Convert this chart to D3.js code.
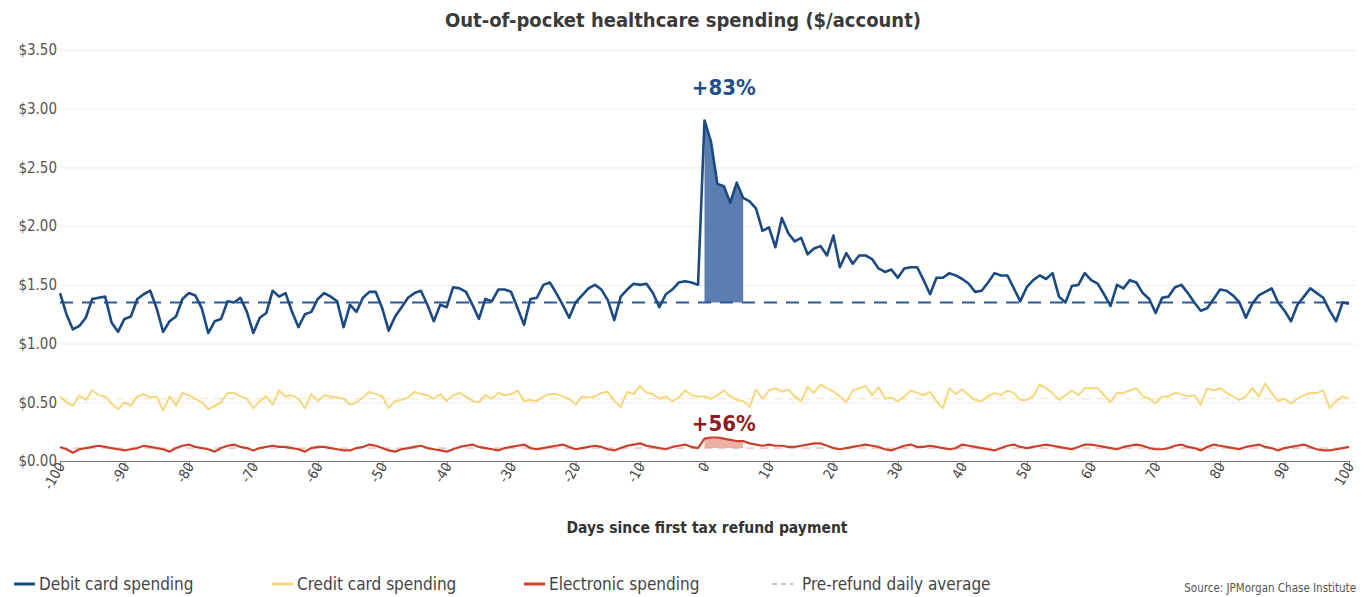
<!DOCTYPE html>
<html>
<head>
<meta charset="utf-8">
<script src="https://cdn.jsdelivr.net/npm/d3@7"></script>
<style>
  html, body { margin: 0; padding: 0; background: #fff; }
  svg { display: block; }
</style>
</head>
<body>
<svg id="chart" width="1367" height="597"></svg>
<script>
// Days relative to the first tax refund payment
const days = d3.range(-100, 101);

// Debit card healthcare spending, $/account per day
const debit = [
  1.43, 1.25, 1.12, 1.15, 1.22, 1.38, 1.39, 1.40, 1.18, 1.10,
  1.21, 1.23, 1.38, 1.42, 1.45, 1.30, 1.10, 1.19, 1.23, 1.38,
  1.43, 1.41, 1.30, 1.09, 1.19, 1.21, 1.36, 1.35, 1.39, 1.27,
  1.09, 1.22, 1.26, 1.45,
  1.40, 1.43, 1.27, 1.14, 1.25, 1.27, 1.38, 1.43, 1.40, 1.36,
  1.14, 1.33, 1.27, 1.39, 1.44, 1.44, 1.30, 1.11, 1.23, 1.31,
  1.39, 1.43, 1.45, 1.33, 1.19, 1.33, 1.31, 1.48, 1.47, 1.44,
  1.33, 1.21, 1.38,
  1.36, 1.46, 1.46, 1.44, 1.30, 1.16, 1.38, 1.39, 1.50, 1.52,
  1.43, 1.33, 1.22, 1.35, 1.41, 1.47, 1.50, 1.46, 1.37, 1.20,
  1.40, 1.46, 1.51, 1.50, 1.51, 1.43, 1.31, 1.42, 1.46, 1.52,
  1.53, 1.52, 1.50,
  2.90, 2.72, 2.36, 2.34, 2.20, 2.37, 2.24, 2.21, 2.15, 1.96,
  1.99, 1.82, 2.07, 1.94, 1.87, 1.90, 1.76, 1.81, 1.83, 1.75,
  1.92, 1.65, 1.77, 1.68, 1.75, 1.75, 1.72, 1.64, 1.61, 1.63,
  1.56, 1.64, 1.65, 1.65,
  1.54, 1.42, 1.56, 1.56, 1.60, 1.58, 1.55, 1.51, 1.44, 1.45,
  1.52, 1.60, 1.58, 1.58, 1.47, 1.36, 1.48, 1.54, 1.58, 1.55,
  1.60, 1.40, 1.35, 1.49, 1.50, 1.60, 1.54, 1.51, 1.42, 1.32,
  1.50, 1.47, 1.54,
  1.52, 1.43, 1.38, 1.26, 1.39, 1.40, 1.48, 1.50, 1.43, 1.35,
  1.28, 1.30, 1.38, 1.46, 1.45, 1.41, 1.35, 1.22, 1.34, 1.41,
  1.44, 1.47, 1.35, 1.28, 1.19, 1.33, 1.40, 1.47, 1.43, 1.39,
  1.28, 1.19, 1.35, 1.34
];

// Credit card healthcare spending, $/account per day
const credit = [
  0.55, 0.50, 0.47, 0.56, 0.52, 0.60, 0.56, 0.55, 0.49, 0.44,
  0.50, 0.47, 0.55, 0.57, 0.54, 0.55, 0.43, 0.55, 0.47, 0.58,
  0.56, 0.53, 0.50, 0.44, 0.47, 0.50, 0.58, 0.58, 0.55, 0.53,
  0.45, 0.51, 0.55, 0.48, 0.60, 0.55, 0.56, 0.53, 0.45, 0.57,
  0.51, 0.56, 0.55, 0.54, 0.53, 0.48, 0.50, 0.54, 0.59, 0.57,
  0.55,
  0.45, 0.51, 0.52, 0.54, 0.59, 0.57, 0.56, 0.53, 0.57, 0.51,
  0.56, 0.58, 0.55, 0.51, 0.50, 0.56, 0.53, 0.58, 0.56, 0.57,
  0.60, 0.51, 0.52, 0.51, 0.55, 0.57, 0.57, 0.55, 0.53, 0.48,
  0.55, 0.54, 0.55, 0.58, 0.59, 0.51, 0.46, 0.59, 0.57, 0.64,
  0.58, 0.57, 0.53, 0.55, 0.51, 0.54, 0.60, 0.56, 0.55,
  0.55, 0.53, 0.56, 0.60, 0.55, 0.52, 0.51, 0.46, 0.61, 0.53,
  0.60, 0.62, 0.59, 0.61, 0.55, 0.51, 0.63, 0.58, 0.65, 0.62,
  0.59, 0.55, 0.50, 0.60, 0.62, 0.64, 0.56, 0.63, 0.53, 0.54,
  0.51, 0.55, 0.60, 0.58, 0.56, 0.59, 0.51, 0.45, 0.62, 0.57,
  0.61, 0.56, 0.52, 0.51, 0.55, 0.58, 0.56, 0.60, 0.58, 0.52,
  0.52,
  0.55, 0.65, 0.62, 0.58, 0.52, 0.56, 0.60, 0.56, 0.62, 0.62,
  0.62, 0.56, 0.50, 0.58, 0.58, 0.60, 0.62, 0.55, 0.53, 0.49,
  0.55, 0.55, 0.58, 0.57, 0.55, 0.56, 0.48, 0.62, 0.60, 0.62,
  0.58, 0.55, 0.52, 0.55, 0.62, 0.55, 0.66, 0.58, 0.51, 0.53,
  0.49, 0.53, 0.56, 0.58, 0.58, 0.60, 0.45, 0.51, 0.55, 0.53
];

// Electronic healthcare spending, $/account per day
const electronic = [
  0.12, 0.10, 0.07, 0.10, 0.11, 0.12, 0.13, 0.12, 0.11, 0.10,
  0.09, 0.10, 0.11, 0.13, 0.12, 0.11, 0.10, 0.08, 0.11, 0.13,
  0.14, 0.12, 0.11, 0.10, 0.08, 0.11, 0.13, 0.14, 0.12, 0.11,
  0.09, 0.11, 0.12, 0.13, 0.12, 0.12, 0.11, 0.10, 0.08, 0.11,
  0.12, 0.12, 0.11, 0.10, 0.09, 0.09, 0.11, 0.12, 0.14, 0.13,
  0.11,
  0.09, 0.08, 0.10, 0.11, 0.12, 0.13, 0.11, 0.10, 0.09, 0.08,
  0.10, 0.12, 0.13, 0.14, 0.12, 0.11, 0.10, 0.09, 0.11, 0.12,
  0.13, 0.14, 0.11, 0.10, 0.11, 0.12, 0.13, 0.14, 0.12, 0.10,
  0.11, 0.12, 0.13, 0.12, 0.10, 0.09, 0.11, 0.13, 0.14, 0.15,
  0.13, 0.12, 0.11, 0.10, 0.12, 0.13, 0.14, 0.12, 0.11,
  0.19, 0.20, 0.20, 0.19, 0.18, 0.17, 0.17, 0.15, 0.14, 0.13,
  0.14, 0.13, 0.13, 0.12, 0.12, 0.13, 0.14, 0.15, 0.15, 0.13,
  0.11, 0.10, 0.11, 0.12, 0.13, 0.14, 0.13, 0.12, 0.10, 0.09,
  0.11, 0.13, 0.14, 0.12, 0.12, 0.13, 0.12, 0.11, 0.10, 0.11,
  0.14, 0.13, 0.12, 0.11, 0.10, 0.09, 0.11, 0.13, 0.14, 0.12,
  0.11,
  0.12, 0.13, 0.14, 0.13, 0.12, 0.11, 0.10, 0.12, 0.14, 0.14,
  0.13, 0.12, 0.11, 0.10, 0.12, 0.13, 0.14, 0.13, 0.11, 0.10,
  0.10, 0.11, 0.13, 0.14, 0.12, 0.11, 0.09, 0.12, 0.14, 0.13,
  0.12, 0.11, 0.10, 0.12, 0.13, 0.14, 0.12, 0.11, 0.09, 0.11,
  0.12, 0.13, 0.14, 0.12, 0.10, 0.09, 0.09, 0.10, 0.11, 0.12
];

// Pre-refund daily averages
const preAverage = { debit: 1.35, credit: 0.53, electronic: 0.11 };
// Window highlighted after the refund (days 0 through 6)
const highlightDays = [0, 6];
const yTicks = [0, 0.5, 1, 1.5, 2, 2.5, 3, 3.5];
const xTicks = d3.range(-100, 101, 10);

const series = [
  { key: "debit", name: "Debit card spending", values: debit, color: "#1b4a82", width: 2.6, avgColor: "#2d5b95", avgWidth: 2, dash: "13,9", fill: "#5b7db0" },
  { key: "credit", name: "Credit card spending", values: credit, color: "#f6d77e", width: 2, avgColor: "#f2e2b5", avgWidth: 1, dash: "8,6", fill: null },
  { key: "electronic", name: "Electronic spending", values: electronic, color: "#c9402d", width: 2.2, avgColor: "#e6a497", avgWidth: 1, dash: "8,6", fill: "#e7a393" }
];

const svg = d3.select("#chart");
const x = d3.scaleLinear().domain([-100, 100]).range([60, 1349]);
const y = d3.scaleLinear().domain([0, 3.5]).range([461, 50]);
const font = '"Liberation Sans Narrow", "DejaVu Sans Condensed", "Roboto Condensed", "Open Sans", sans-serif';

// Title
svg.append("text")
  .attr("x", 683).attr("y", 27)
  .attr("text-anchor", "middle")
  .attr("font-family", font)
  .attr("font-size", 20).attr("font-weight", "bold")
  .attr("fill", "#3a3a3a")
  .text("Out-of-pocket healthcare spending ($/account)");

// Gridlines and y axis labels
const yAxis = d3.axisLeft(y).tickValues(yTicks)
  .tickSize(-(1356 - 60))
  .tickFormat(d => "$" + d3.format(".2f")(d));
const gy = svg.append("g").attr("transform", "translate(60,0)").call(yAxis);
gy.select(".domain").remove();
gy.selectAll(".tick line").attr("stroke", "#ececec").attr("stroke-width", 1);
gy.selectAll(".tick text")
  .attr("x", -3)
  .attr("font-family", font)
  .attr("font-size", 15)
  .attr("fill", "#555");

// Highlighted area between the pre-refund average and the series
const areaData = (vals) => days.map((d, i) => ({ d, v: vals[i] }))
  .filter(p => p.d >= highlightDays[0] && p.d <= highlightDays[1]);

series.forEach(s => {
  if (!s.fill) return;
  const base = preAverage[s.key];
  svg.append("path")
    .datum(areaData(s.values))
    .attr("fill", s.fill)
    .attr("opacity", s.key === "debit" ? 1 : 0.85)
    .attr("d", d3.area().x(p => x(p.d)).y0(y(base)).y1(p => y(p.v)));
});

// Pre-refund average reference lines
series.forEach(s => {
  svg.append("line")
    .attr("x1", x(-100)).attr("x2", x(100))
    .attr("y1", y(preAverage[s.key])).attr("y2", y(preAverage[s.key]))
    .attr("stroke", s.avgColor)
    .attr("stroke-width", s.avgWidth)
    .attr("stroke-dasharray", s.dash);
});

// Series lines
const line = d3.line().x((d, i) => x(days[i])).y(d => y(d));
[series[1], series[2], series[0]].forEach(s => {
  svg.append("path")
    .datum(s.values)
    .attr("fill", "none")
    .attr("stroke", s.color)
    .attr("stroke-width", s.width)
    .attr("stroke-linejoin", "round")
    .attr("d", line);
});

// Change annotations
const pctDebit = "+83%";
const pctElectronic = "+56%";
svg.append("text")
  .attr("x", x(3)).attr("y", 95)
  .attr("text-anchor", "middle")
  .attr("font-family", font).attr("font-size", 22).attr("font-weight", "bold")
  .attr("fill", "#1f4d88")
  .text(pctDebit);
svg.append("text")
  .attr("x", x(3)).attr("y", 431)
  .attr("text-anchor", "middle")
  .attr("font-family", font).attr("font-size", 22).attr("font-weight", "bold")
  .attr("fill", "#8e1c1c")
  .text(pctElectronic);

// X axis
const xAxis = d3.axisBottom(x).tickValues(xTicks).tickSize(10).tickSizeOuter(0)
  .tickFormat(d => String(d));
const gx = svg.append("g").attr("transform", `translate(0,${y(0)})`).call(xAxis);
gx.select(".domain").attr("stroke", "#777");
gx.selectAll(".tick line").attr("stroke", "#777");
gx.selectAll(".tick text")
  .attr("font-family", font)
  .attr("font-size", 14)
  .attr("fill", "#444")
  .attr("text-anchor", "end")
  .attr("dy", 0)
  .attr("transform", "translate(5,5) rotate(-60)")
  .attr("x", 0).attr("y", 0);

svg.append("text")
  .attr("x", 707).attr("y", 533)
  .attr("text-anchor", "middle")
  .attr("font-family", font).attr("font-size", 15.5).attr("font-weight", "bold")
  .attr("fill", "#333")
  .text("Days since first tax refund payment");

// Legend
const legendItems = [
  { name: series[0].name, color: series[0].color, x: 14, dash: null, w: 3 },
  { name: series[1].name, color: series[1].color, x: 272, dash: null, w: 3 },
  { name: series[2].name, color: series[2].color, x: 524, dash: null, w: 3 },
  { name: "Pre-refund daily average", color: "#888", x: 772, dash: "5,4", w: 1.2 }
];
const lg = svg.append("g").attr("transform", "translate(0,584)");
legendItems.forEach(it => {
  lg.append("line")
    .attr("x1", it.x).attr("x2", it.x + 21)
    .attr("y1", 0).attr("y2", 0)
    .attr("stroke", it.color).attr("stroke-width", it.w)
    .attr("stroke-dasharray", it.dash);
  lg.append("text")
    .attr("x", it.x + (it.dash ? 30 : 25)).attr("y", 6)
    .attr("font-family", font).attr("font-size", 17)
    .attr("fill", "#444")
    .text(it.name);
});
svg.append("text")
  .attr("x", 1356).attr("y", 592)
  .attr("text-anchor", "end")
  .attr("font-family", font).attr("font-size", 11.5)
  .attr("fill", "#555")
  .text("Source: JPMorgan Chase Institute");
</script>
</body>
</html>
